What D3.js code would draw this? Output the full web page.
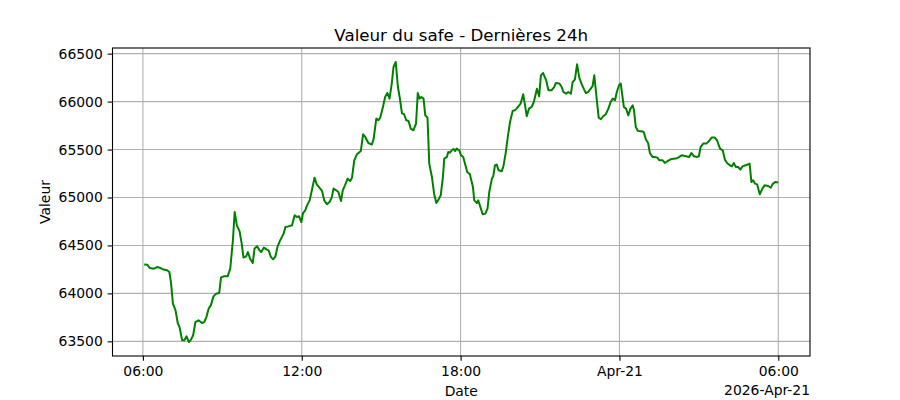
<!DOCTYPE html>
<html>
<head>
<meta charset="utf-8">
<script src="https://cdn.jsdelivr.net/npm/d3@7"></script>
<style>
  body { margin: 0; background: #fff; }
  text { font-family: "DejaVu Sans", sans-serif; }
</style>
</head>
<body>
<svg id="chart" width="900" height="400"></svg>
<script>
// minutes after 2026-04-20 06:00
var minutes = [3, 10, 16, 25, 32, 40, 47, 55, 60, 64, 68, 74, 79, 83, 89, 94, 99, 104, 109, 114,
  119, 126, 134, 139, 144, 149, 154, 160, 166, 173, 177, 183, 192, 198, 204, 208, 213, 219, 224, 228,
  234, 238, 243, 249, 253, 259, 264, 268, 274, 281, 285, 290, 295, 300, 305, 311, 319, 323, 330, 338,
  344, 349, 354, 359, 363, 368, 372, 378, 383, 389, 394, 400, 406, 411, 417, 423, 428, 432, 438, 443,
  449, 453, 458, 464, 470, 474, 479, 485, 494, 499, 504, 511, 519, 523, 529, 534, 538, 544, 549, 554,
  559, 564, 568, 573, 578, 583, 587, 592, 597, 602, 607, 613, 619, 623, 627, 631, 636, 640, 645, 649,
  655, 660, 665, 670, 675, 680, 683, 689, 692, 696, 700, 704, 708, 711, 717, 721, 726, 730, 735, 741,
  748, 751, 757, 760, 766, 770, 776, 781, 785, 791, 794, 798, 802, 806, 813, 817, 822, 827, 832, 838,
  843, 847, 851, 856, 862, 866, 870, 875, 881, 886, 893, 898, 902, 907, 914, 919, 926, 932, 936, 944,
  949, 953, 959, 964, 970, 974, 979, 984, 989, 994, 1000, 1004, 1009, 1015, 1019, 1023, 1028, 1033, 1038, 1043,
  1049, 1055, 1060, 1065, 1070, 1074, 1079, 1083, 1087, 1090, 1095, 1100, 1105, 1110, 1113, 1117, 1122, 1130, 1135, 1140,
  1145, 1149, 1155, 1160, 1166, 1170, 1178, 1183, 1190, 1198, 1208, 1213, 1221, 1231, 1238, 1243, 1249, 1256, 1260, 1264,
  1270, 1277, 1283, 1289, 1296, 1301, 1308, 1314, 1319, 1324, 1330, 1335, 1339, 1344, 1349, 1354, 1359, 1366, 1372, 1375,
  1379, 1383, 1387, 1392, 1398, 1404, 1409, 1417, 1423, 1428, 1434, 1440];

var values = [64300, 64298, 64264, 64258, 64275, 64264, 64248, 64241, 64223, 64102, 63893, 63823, 63691, 63649, 63510, 63510, 63552, 63493, 63518, 63563,
  63701, 63719, 63691, 63701, 63753, 63841, 63875, 63969, 63997, 64004, 64164, 64178, 64178, 64258, 64553, 64849, 64710, 64650, 64519, 64373,
  64387, 64431, 64362, 64317, 64467, 64491, 64449, 64431, 64477, 64456, 64449, 64380, 64355, 64380, 64484, 64553, 64623, 64692, 64699, 64710,
  64814, 64797, 64804, 64744, 64838, 64866, 64918, 64970, 65075, 65207, 65137, 65103, 65068, 64970, 64929, 64953, 64999, 65093, 65075, 65057,
  64963, 65075, 65127, 65197, 65172, 65207, 65388, 65450, 65485, 65659, 65631, 65568, 65552, 65614, 65823, 65805, 65833, 65944, 66048, 66090,
  66031, 66188, 66361, 66413, 66152, 66014, 65881, 65868, 65805, 65798, 65718, 65701, 65771, 66090, 66031, 66048, 66031, 65857, 65833, 65353,
  65214, 65040, 64943, 64978, 65023, 65214, 65406, 65423, 65475, 65468, 65492, 65506, 65485, 65510, 65492, 65440, 65423, 65353, 65266, 65242,
  65109, 64970, 64943, 64970, 64884, 64825, 64832, 64884, 65057, 65197, 65221, 65336, 65343, 65284, 65273, 65325, 65458, 65631, 65787, 65902,
  65909, 65927, 65951, 65979, 66076, 65961, 65847, 65927, 65944, 65996, 66135, 66055, 66274, 66298, 66222, 66118, 66118, 66152, 66194, 66188,
  66152, 66100, 66083, 66100, 66083, 66205, 66229, 66389, 66250, 66188, 66125, 66090, 66100, 66135, 66160, 66274, 66048, 65833, 65816, 65847,
  65868, 65927, 65996, 66031, 66014, 66100, 66170, 66188, 66048, 65944, 65927, 65857, 65927, 65961, 65909, 65735, 65693, 65690, 65683, 65604,
  65568, 65464, 65423, 65423, 65416, 65388, 65388, 65360, 65381, 65402, 65406, 65416, 65440, 65430, 65423, 65464, 65430, 65423, 65430, 65527,
  65562, 65562, 65589, 65625, 65625, 65597, 65510, 65492, 65395, 65360, 65336, 65325, 65360, 65318, 65318, 65291, 65325, 65336, 65346, 65353,
  65162, 65179, 65145, 65137, 65033, 65093, 65127, 65120, 65103, 65145, 65162, 65155];

var yTicks = [63500, 64000, 64500, 65000, 65500, 66000, 66500];
var xTickTimes = ["2026-04-20T06:00", "2026-04-20T12:00", "2026-04-20T18:00", "2026-04-21T00:00", "2026-04-21T06:00"];
var xTickLabels = ["06:00", "12:00", "18:00", "Apr-21", "06:00"];
var offsetLabel = "2026-Apr-21";

var start = new Date(2026, 3, 20, 6, 0);
var data = minutes.map(function(m, i) {
  return { t: new Date(start.getTime() + m * 60000), v: values[i] };
});

var svg = d3.select("#chart");
var axL = 112.5, axR = 810, axT = 48, axB = 356;
var tick = 4.86;

// matplotlib style 5% margins
var tExt = d3.extent(data, function(d) { return d.t.getTime(); });
var tPad = (tExt[1] - tExt[0]) * 0.05;
var vExt = d3.extent(data, function(d) { return d.v; });
var vPad = (vExt[1] - vExt[0]) * 0.05;

var x = d3.scaleTime()
    .domain([new Date(tExt[0] - tPad), new Date(tExt[1] + tPad)])
    .range([axL, axR]);
var y = d3.scaleLinear()
    .domain([vExt[0] - vPad, vExt[1] + vPad])
    .range([axB, axT]);

var tickDates = xTickTimes.map(function(s) { return new Date(s); });

// grid
var grid = svg.append("g");
grid.selectAll(".gx").data(tickDates).enter().append("line")
    .attr("x1", function(d) { return x(d); }).attr("x2", function(d) { return x(d); })
    .attr("y1", axT).attr("y2", axB)
    .style("stroke", "#b0b0b0").style("stroke-width", 1.1);
grid.selectAll(".gy").data(yTicks).enter().append("line")
    .attr("x1", axL).attr("x2", axR)
    .attr("y1", function(d) { return y(d); }).attr("y2", function(d) { return y(d); })
    .style("stroke", "#b0b0b0").style("stroke-width", 1.1);

// line
var line = d3.line()
    .x(function(d) { return x(d.t); })
    .y(function(d) { return y(d.v); });

svg.append("path")
    .datum(data)
    .attr("d", line)
    .style("fill", "none")
    .style("stroke", "#008000")
    .style("stroke-width", 2)
    .style("stroke-linejoin", "round");

// frame
svg.append("rect")
    .attr("x", axL).attr("y", axT)
    .attr("width", axR - axL).attr("height", axB - axT)
    .style("fill", "none").style("stroke", "#000").style("stroke-width", 1.1);

// axes
var xAxis = d3.axisBottom(x)
    .tickValues(tickDates)
    .tickFormat(function(d, i) { return xTickLabels[i]; })
    .tickSize(tick).tickPadding(4.86).tickSizeOuter(0);
var gx = svg.append("g")
    .attr("transform", "translate(0," + axB + ")")
    .call(xAxis);

var yAxis = d3.axisLeft(y)
    .tickValues(yTicks)
    .tickFormat(d3.format("d"))
    .tickSize(tick).tickPadding(4.86).tickSizeOuter(0);
var gy = svg.append("g")
    .attr("transform", "translate(" + axL + ",0)")
    .call(yAxis);

[gx, gy].forEach(function(g) {
  g.select(".domain").remove();
  g.selectAll("line").style("stroke", "#000").style("stroke-width", 1.1);
  g.selectAll("text").style("font-size", "13.9px").style("fill", "#000")
    .style("font-family", "'DejaVu Sans', sans-serif");
});

// labels
svg.append("text")
    .attr("x", (axL + axR) / 2).attr("y", 41)
    .attr("text-anchor", "middle")
    .style("font-size", "16.7px")
    .text("Valeur du safe - Dernières 24h");

svg.append("text")
    .attr("x", (axL + axR) / 2).attr("y", 396)
    .attr("text-anchor", "middle")
    .style("font-size", "13.9px")
    .text("Date");

svg.append("text")
    .attr("x", axR).attr("y", 395)
    .attr("text-anchor", "end")
    .style("font-size", "13.9px")
    .text(offsetLabel);

svg.append("text")
    .attr("transform", "translate(50," + (axT + axB) / 2 + ") rotate(-90)")
    .attr("text-anchor", "middle")
    .style("font-size", "13.9px")
    .text("Valeur");
</script>
</body>
</html>
